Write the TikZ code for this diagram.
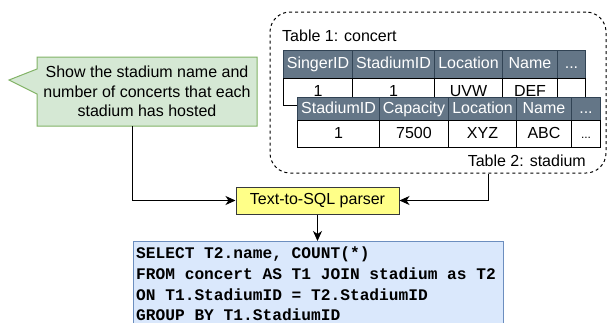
\documentclass[tikz,border=0pt]{standalone}
\usepackage{fontspec}
\setmainfont{Liberation Sans}
\setmonofont{Liberation Mono}
\usetikzlibrary{arrows.meta,calc}
\definecolor{gfill}{HTML}{D5E8D4}
\definecolor{gline}{HTML}{82B366}
\definecolor{hfill}{HTML}{647687}
\definecolor{hline}{HTML}{314354}
\definecolor{yfill}{HTML}{FFFF88}
\definecolor{yline}{HTML}{36393D}
\definecolor{bfill}{HTML}{DAE8FC}
\definecolor{bline}{HTML}{6C8EBF}
\tikzset{
  txt/.style={font=\fontsize{16}{19.5}\selectfont, inner sep=0pt},
  hcell/.style={txt, text height=11.5pt, text depth=3.5pt, draw=hline, fill=hfill, text=white, anchor=north west, line width=1pt},
  dcell/.style={txt, text height=11.5pt, text depth=3.5pt, draw=black, fill=white, anchor=north west, line width=1pt},
  conn/.style={line width=1pt, -{Stealth[length=10pt,width=9pt,inset=3pt]}},
  code/.style={font=\ttfamily\bfseries\fontsize{16.2}{20}\selectfont, inner sep=0pt, anchor=base west},
}
\begin{document}
\begin{tikzpicture}[x=1pt,y=-1pt]
\clip (0,0) rectangle (608,322);
\fill[white] (0,0) rectangle (608,322);

% callout
\draw[fill=gfill, draw=gline, line width=1pt]
  (37,57) -- (257,57) -- (257,126) -- (37,126) -- (37,94) -- (9,80) -- (37,69) -- cycle;
\node[txt, align=center, minimum width=220pt, minimum height=69pt] (callout) at (147,91.5)
  {Show the stadium name and\\number of concerts that each\\stadium has hosted};

% dashed container
\node[draw, dash pattern=on 3pt off 3pt, line width=1pt, rounded corners=20pt,
      minimum width=336pt, minimum height=161pt, inner sep=0pt] (dbox) at (438,92.5) {};
\node[txt, anchor=west] (t1lab) at (282,36) {Table 1: concert};
\node[txt, anchor=east] (t2lab) at (586,161) {Table 2: stadium};

% table 1
\node[hcell, minimum width=69pt, minimum height=28pt] (a1) at (283,50) {SingerID};
\node[hcell, minimum width=82pt, minimum height=28pt] (a2) at (352,50) {StadiumID};
\node[hcell, minimum width=68pt, minimum height=28pt] (a3) at (434,50) {Location};
\node[hcell, minimum width=55pt, minimum height=28pt] (a4) at (502,50) {Name};
\node[hcell, minimum width=28pt, minimum height=28pt] (a5) at (557,50) {...};
\node[dcell, minimum width=69pt, minimum height=27pt] (b1) at (283,78) {1};
\node[dcell, minimum width=82pt, minimum height=27pt] (b2) at (352,78) {1};
\node[dcell, minimum width=68pt, minimum height=27pt] (b3) at (434,78) {UVW};
\node[dcell, minimum width=55pt, minimum height=27pt] (b4) at (502,78) {DEF};
\node[dcell, minimum width=28pt, minimum height=27pt] (b5) at (557,78) {};

% table 2
\node[hcell, minimum width=82pt, minimum height=23pt] (c1) at (297,97) {StadiumID};
\node[hcell, minimum width=69pt, minimum height=23pt] (c2) at (379,97) {Capacity};
\node[hcell, minimum width=68pt, minimum height=23pt] (c3) at (448,97) {Location};
\node[hcell, minimum width=55pt, minimum height=23pt] (c4) at (516,97) {Name};
\node[hcell, minimum width=29pt, minimum height=23pt] (c5) at (571,97) {...};
\node[dcell, minimum width=82pt, minimum height=27pt] (d1) at (297,120) {1};
\node[dcell, minimum width=69pt, minimum height=27pt] (d2) at (379,120) {7500};
\node[dcell, minimum width=68pt, minimum height=27pt] (d3) at (448,120) {XYZ};
\node[dcell, minimum width=55pt, minimum height=27pt] (d4) at (516,120) {ABC};
\node[dcell, minimum width=29pt, minimum height=27pt] (d5) at (571,120) {\fontsize{12}{12}\selectfont ...};

% parser
\node[txt, draw=yline, fill=yfill, line width=1pt, minimum width=163pt, minimum height=27pt] (parser) at (317.5,200.5) {Text-to-SQL parser};

% SQL box
\node[draw=bline, fill=bfill, line width=1pt, minimum width=370pt, minimum height=100pt, anchor=north west, inner sep=0pt] (sql) at (133,241) {};
\node[code] (q1) at (136,258.5) {SELECT T2.name, COUNT(*)};
\node[code] (q2) at (136,279) {FROM concert AS T1 JOIN stadium as T2};
\node[code] (q3) at (136,300) {ON T1.StadiumID = T2.StadiumID};
\node[code] (q4) at (136,320) {GROUP BY T1.StadiumID};

% connectors
\draw[conn] ($(callout.south west)+(96,0)$) |- (parser);
\draw[conn] ($(dbox.south west)+(219,0)$) |- (parser);
\draw[conn] (parser.south) -- (parser.south |- sql.north);
\end{tikzpicture}
\end{document}
